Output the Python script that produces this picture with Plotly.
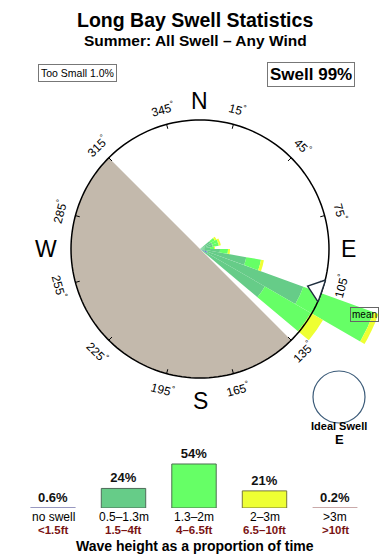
import math
import plotly.graph_objects as go

W, H = 390, 560
FONT = "Liberation Sans, Arial, sans-serif"

# ---------------- data ----------------
# swell rose: direction bins (deg, "from") and stacked lengths per height class
dir_bins = [55, 65, 75, 85, 95, 105, 115, 125]
bin_width = 10
rose_no_swell = [0, 0, 0, 0, 0, 0, 6.2, 0]
rose_05_13 = [9.3, 10.1, 10.1, 7.8, 15.5, 36.4, 79.1, 58.1]
rose_13_2 = [3.9, 4.7, 4.7, 3.1, 6.2, 11.6, 58.1, 41.1]
rose_2_3 = [1.6, 1.6, 1.6, 0.8, 1.6, 2.3, 8.5, 10.9]
rose_gt3 = [0, 0, 0, 0, 0, 0, 0, 0]
mean_direction = 109

land_center = 225
land_width = 180

degree_ticks = [15, 45, 75, 105, 135, 165, 195, 225, 255, 285, 315, 345]
compass = ["N", "E", "S", "W"]
compass_deg = [0, 90, 180, 270]

# wave height summary
height_classes = ["no swell", "0.5–1.3m", "1.3–2m", "2–3m", ">3m"]
height_feet = ["&lt;1.5ft", "1.5–4ft", "4–6.5ft", "6.5–10ft", "&gt;10ft"]
height_pct = [0.6, 24, 54, 21, 0.2]
height_text = ["<b>0.6%</b>", "<b>24%</b>", "<b>54%</b>", "<b>21%</b>", "<b>0.2%</b>"]

# ---------------- styles / geometry ----------------
class_colors = ["#6a6ae0", "#66cc88", "#66ff66", "#eeff33", "#c8a0a0"]
legend_fill = ["#a8a8c8", "#66cc88", "#66ff66", "#eeff33", "#c8a4a4"]
legend_line = ["#9898c0", "#4d6b58", "#4d7050", "#77773a", "#c09c9c"]
CX, CY = 200.0, 249.0      # rose centre (px)
R_PX = 129.0               # compass circle radius (px)
RMAX_PX = 190.0            # polar area radius (px)
R_CIRCLE = 100.0           # compass circle in rose units
R_MAX = R_CIRCLE * RMAX_PX / R_PX

fig = go.Figure()

# land sector
fig.add_trace(go.Barpolar(r=[R_CIRCLE], theta=[land_center], width=[land_width],
                          marker=dict(color="#c3b9ac", line=dict(width=0)),
                          showlegend=False, hoverinfo="skip", subplot="polar"))

series = [rose_no_swell, rose_05_13, rose_13_2, rose_2_3, rose_gt3]
for vals, col in zip(series, class_colors):
    fig.add_trace(go.Barpolar(r=vals, theta=dir_bins, width=[bin_width] * len(dir_bins),
                              marker=dict(color=col, line=dict(width=0)),
                              showlegend=False, hoverinfo="skip", subplot="polar"))

# compass circle (overlay subplot so it sits above the bars)
circ_t = list(range(0, 361, 2))
fig.add_trace(go.Scatterpolar(r=[R_CIRCLE] * len(circ_t), theta=circ_t, mode="lines",
                              line=dict(color="black", width=1.5), showlegend=False,
                              hoverinfo="skip", subplot="polar2"))
# ticks
tr, tt = [], []
for d in degree_ticks:
    tr += [R_CIRCLE * 0.965, R_CIRCLE, None]
    tt += [d, d, None]
fig.add_trace(go.Scatterpolar(r=tr, theta=tt, mode="lines",
                              line=dict(color="black", width=1), showlegend=False,
                              hoverinfo="skip", subplot="polar2"))
# mean arrow (head pointing towards the centre)
fig.add_trace(go.Scatterpolar(r=[96], theta=[mean_direction], mode="markers",
                              marker=dict(symbol="triangle-up", size=20, color="white",
                                          angle=mean_direction + 180,
                                          line=dict(color="#1e2d3d", width=1.4)),
                              showlegend=False, hoverinfo="skip", subplot="polar2"))

# wave height summary bars
fig.add_trace(go.Bar(x=height_classes, y=height_pct, width=0.63,
                     marker=dict(color=legend_fill, line=dict(color=legend_line, width=1)),
                     text=height_text, textposition="outside", cliponaxis=False,
                     constraintext="none",
                     textfont=dict(family=FONT, size=13, color="#111"),
                     xaxis="x", yaxis="y", showlegend=False, hoverinfo="skip"))

ann = []


def px2paper(x, y):
    return x / W, 1 - y / H


ann.append(dict(text="<b>Long Bay Swell Statistics</b>", x=0.5, y=1 - 20 / H,
                font=dict(size=19.5, color="black")))
ann.append(dict(text="<b>Summer: All Swell – Any Wind</b>", x=0.5, y=1 - 41 / H,
                font=dict(size=15.5, color="black")))
x, y = px2paper(77.5, 73)
ann.append(dict(text="Too Small 1.0%", x=x, y=y, font=dict(size=10.5, color="black"),
                bordercolor="#777", borderwidth=1, borderpad=2, bgcolor="white"))
x, y = px2paper(310.5, 74.5)
ann.append(dict(text="<b>Swell 99%</b>", x=x, y=y, font=dict(size=17, color="black"),
                bordercolor="#777", borderwidth=1, borderpad=2, bgcolor="white"))

# degree labels
for d in degree_ticks:
    rad = math.radians(d)
    x, y = px2paper(CX + 145 * math.sin(rad), CY - 145 * math.cos(rad))
    a = d % 180
    if a > 90:
        a -= 180
    ann.append(dict(text=f"{d}<sup>°</sup>", x=x, y=y, textangle=a,
                    font=dict(size=12, color="black")))

compass_r = [148, 148, 152, 154]
for lab, d, rr in zip(compass, compass_deg, compass_r):
    rad = math.radians(d)
    x, y = px2paper(CX + rr * math.sin(rad), CY - rr * math.cos(rad))
    ann.append(dict(text=lab, x=x, y=y, font=dict(size=23, color="black")))

x, y = px2paper(364, 314)
ann.append(dict(text="mean", x=x, y=y, font=dict(size=10, color="black"),
                bordercolor="#666", borderwidth=1, borderpad=1))

x, y = px2paper(339, 426)
ann.append(dict(text="<b>Ideal Swell</b>", x=x, y=y, font=dict(size=11, color="black")))
x, y = px2paper(339, 439)
ann.append(dict(text="<b>E</b>", x=x, y=y, font=dict(size=13, color="black")))

for c, ft in zip(height_classes, height_feet):
    ann.append(dict(text=c.replace(">", "&gt;"), x=c, xref="x", y=1 - 517 / H,
                    font=dict(size=12, color="black"), borderpad=0))
    ann.append(dict(text=f"<b>{ft}</b>", x=c, xref="x", y=1 - 530 / H,
                    font=dict(size=11.5, color="#7a1414"), borderpad=0))
ann.append(dict(text="<b>Wave height as a proportion of time</b>", x=0.5, y=1 - 546 / H,
                font=dict(size=14, color="black")))

for a in ann:
    a.setdefault("xref", "paper")
    a["yref"] = "paper"
    a["showarrow"] = False
    a["xanchor"] = "center"
    a["yanchor"] = "middle"

polar_common = dict(
    domain=dict(x=[(CX - RMAX_PX) / W, min(1.0, (CX + RMAX_PX) / W)],
                y=[1 - (CY + RMAX_PX) / H, 1 - (CY - RMAX_PX) / H]),
    bgcolor="rgba(0,0,0,0)",
    radialaxis=dict(range=[0, R_MAX], visible=False),
    angularaxis=dict(rotation=90, direction="clockwise", visible=False),
)

fig.update_layout(
    width=W, height=H, autosize=False,
    margin=dict(l=0, r=0, t=0, b=0),
    paper_bgcolor="white", plot_bgcolor="white",
    font=dict(family=FONT, color="black"),
    polar=dict(barmode="stack", **polar_common),
    polar2=dict(**polar_common),
    xaxis=dict(domain=[17.75 / W, 370.25 / W], range=[-0.5, 4.5], showticklabels=False,
               showgrid=False, zeroline=False, showline=False, fixedrange=True),
    yaxis=dict(domain=[1 - 508 / H, 1 - 440 / H], range=[0, 68 / 0.815], visible=False,
               fixedrange=True),
    annotations=ann,
    shapes=[dict(type="circle", xref="paper", yref="paper",
                 x0=313 / W, x1=365 / W, y0=1 - 423 / H, y1=1 - 371 / H,
                 line=dict(color="#3a5a78", width=1.2))],
    showlegend=False,
)

fig.write_html("out.html")
